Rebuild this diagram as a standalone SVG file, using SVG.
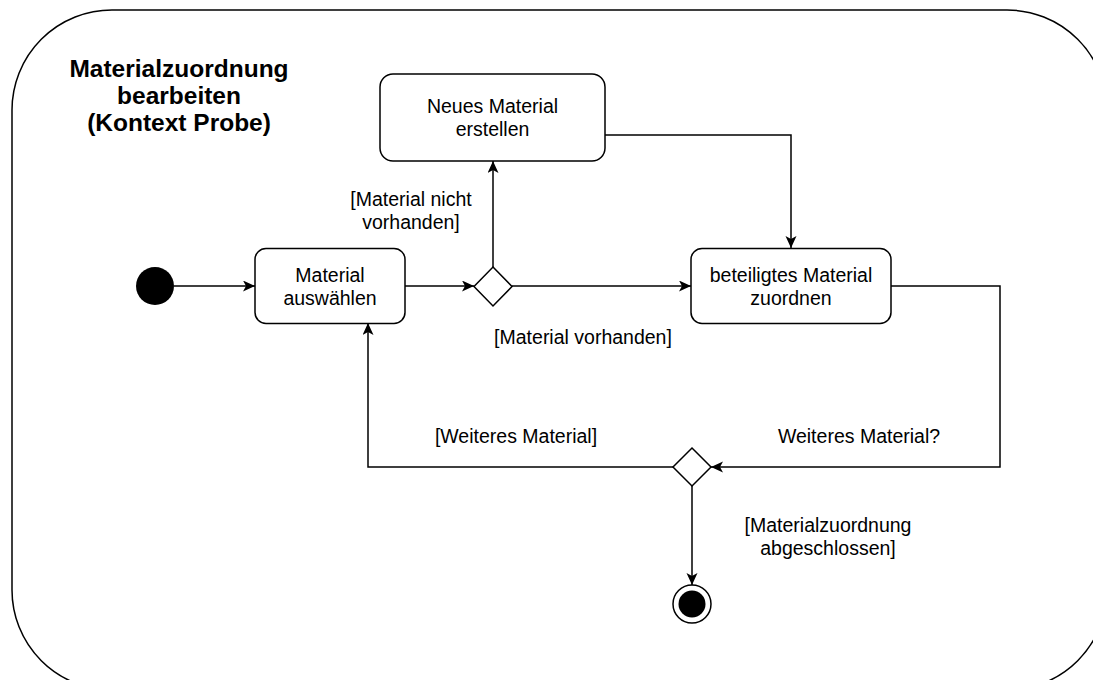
<svg xmlns="http://www.w3.org/2000/svg" width="1093" height="680" viewBox="0 0 1093 680">
  <defs>
    <marker id="arrow" markerUnits="userSpaceOnUse" markerWidth="14" markerHeight="12" refX="12" refY="5.5" orient="auto">
      <path d="M0,0 L12,5.5 L0,11 L3,5.5 Z" fill="#000"/>
    </marker>
    <style>
      .frame { fill: #fff; stroke: #000; stroke-width: 1.5; }
      .action { fill: #fff; stroke: #000; stroke-width: 1.5; }
      .decision { fill: #fff; stroke: #000; stroke-width: 1.5; }
      .edge { fill: none; stroke: #000; stroke-width: 1.5; marker-end: url(#arrow); }
      .txt { font-family: "Liberation Sans", Arial, sans-serif; font-size: 19.5px; fill: #000; text-anchor: middle; }
      .title { font-family: "Liberation Sans", Arial, sans-serif; font-size: 24.5px; font-weight: bold; fill: #000; text-anchor: middle; }
    </style>
  </defs>

  <!-- activity frame -->
  <g id="frame">
    <rect class="frame" x="12" y="10" width="1095" height="680" rx="100" ry="100"/>
    <text class="title" x="179" y="77">Materialzuordnung</text>
    <text class="title" x="179" y="104">bearbeiten</text>
    <text class="title" x="179" y="131">(Kontext Probe)</text>
  </g>

  <!-- control flow -->
  <g id="connectors">
    <path class="edge" d="M174,286 L255,286"/>
    <path class="edge" d="M405,286 L474,286"/>
    <path class="edge" d="M493,267 L493,161"/>
    <path class="edge" d="M512,286 L691,286"/>
    <path class="edge" d="M605,135 L791,135 L791,248"/>
    <path class="edge" d="M891,286 L1000,286 L1000,467 L711,467"/>
    <path class="edge" d="M673,467 L368,467 L368,323"/>
    <path class="edge" d="M692,486 L692,585"/>
  </g>

  <!-- guard labels -->
  <g id="labels">
    <text class="txt" x="411" y="206">[Material nicht</text>
    <text class="txt" x="411" y="229">vorhanden]</text>
    <text class="txt" x="583" y="344">[Material vorhanden]</text>
    <text class="txt" x="516" y="443">[Weiteres Material]</text>
    <text class="txt" x="859" y="443">Weiteres Material?</text>
    <text class="txt" x="828" y="532">[Materialzuordnung</text>
    <text class="txt" x="828" y="555">abgeschlossen]</text>
  </g>

  <g id="start">
    <circle cx="155" cy="286" r="19" fill="#000"/>
  </g>

  <g id="material-auswaehlen">
    <rect class="action" x="255" y="248.5" width="150" height="75" rx="11" ry="11"/>
    <text class="txt" x="330" y="282">Material</text>
    <text class="txt" x="330" y="305">auswählen</text>
  </g>

  <g id="decision-vorhanden">
    <path class="decision" d="M493,267 L512,286.5 L493,306 L474,286.5 Z"/>
  </g>

  <g id="neues-material">
    <rect class="action" x="380" y="74" width="225" height="87" rx="13" ry="13"/>
    <text class="txt" x="492.5" y="113">Neues Material</text>
    <text class="txt" x="492.5" y="136">erstellen</text>
  </g>

  <g id="material-zuordnen">
    <rect class="action" x="691" y="248.5" width="200" height="75" rx="11" ry="11"/>
    <text class="txt" x="791" y="282">beteiligtes Material</text>
    <text class="txt" x="791" y="305">zuordnen</text>
  </g>

  <g id="decision-weiteres">
    <path class="decision" d="M692,448 L711,467 L692,486 L673,467 Z"/>
  </g>

  <g id="end">
    <circle cx="692" cy="604" r="19" fill="#fff" stroke="#000" stroke-width="1.5"/>
    <circle cx="692" cy="604" r="13.5" fill="#000"/>
  </g>
</svg>
